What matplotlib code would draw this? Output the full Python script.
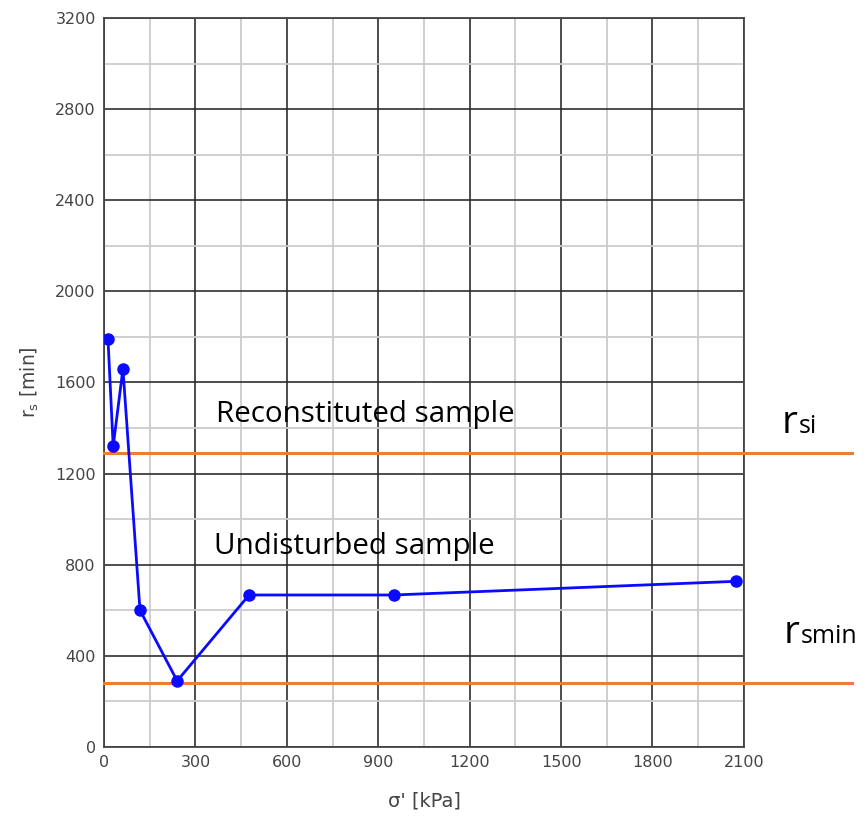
import matplotlib.pyplot as plt
from matplotlib.ticker import MultipleLocator

# data
stress = [13, 30, 62, 118, 240, 476, 951, 2073]
rs = [1790, 1320, 1660, 600, 290, 667, 667, 727]
rs_i = 1290
rs_min = 280

xticks = [0, 300, 600, 900, 1200, 1500, 1800, 2100]
yticks = [0, 400, 800, 1200, 1600, 2000, 2400, 2800, 3200]

fig = plt.figure(figsize=(8.67, 8.19), dpi=100)
ax = fig.add_axes([0.12, 0.088, 0.738, 0.89])

ax.set_xlim(0, 2100)
ax.set_ylim(0, 3200)
ax.set_xticks(xticks)
ax.set_yticks(yticks)
ax.xaxis.set_minor_locator(MultipleLocator(150))
ax.yaxis.set_minor_locator(MultipleLocator(200))
ax.grid(which='major', color='#2a2a2a', lw=1.3, alpha=0.9)
ax.grid(which='minor', color='#cccccc', lw=1.3)
ax.set_axisbelow(True)
for s in ax.spines.values():
    s.set_color('#444444')
    s.set_linewidth(1.3)
ax.tick_params(which='both', length=0, pad=6, labelsize=11.5, labelcolor='#444444')

# threshold lines run past the right edge of the axes
ax.plot([0, 2455], [rs_i, rs_i], color='#ee7d31', lw=2.2, clip_on=False, zorder=3)
ax.plot([0, 2455], [rs_min, rs_min], color='#ee7d31', lw=2.2, clip_on=False, zorder=3)

ax.plot(stress, rs, color='#0a0aff', lw=2, marker='o', ms=8, zorder=4)

ax.set_xlabel("σ' [kPa]", fontsize=14, color='#444444', labelpad=15)
ax.set_ylabel("r$_\\mathregular{s}$ [min]", fontsize=13.5, color='#444444', labelpad=10)

tf = 'Open Sans'
ax.text(368, 1427, 'Reconstituted sample', fontsize=21.3, family=tf, va='baseline')
ax.text(362, 847, 'Undisturbed sample', fontsize=21.3, family=tf, va='baseline')
ax.text(2224, 1378, 'r', fontsize=28, family=tf, va='baseline', clip_on=False)
ax.text(2281, 1378, 'si', fontsize=18, family=tf, va='baseline', clip_on=False)
ax.text(2230, 456, 'r', fontsize=28, family=tf, va='baseline', clip_on=False)
ax.text(2287, 456, 'smin', fontsize=18, family=tf, va='baseline', clip_on=False)

fig.savefig('out.png', dpi=100)
